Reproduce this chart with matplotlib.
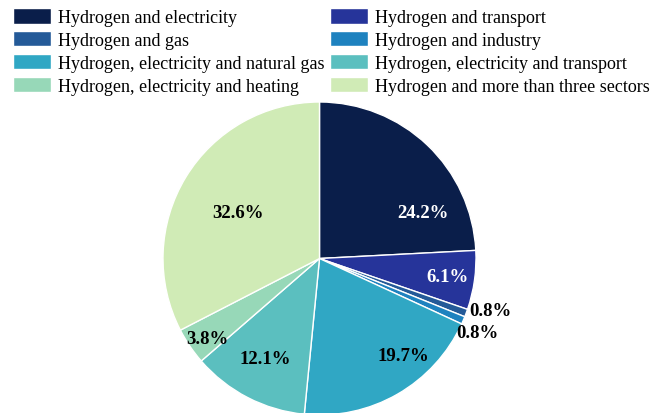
import matplotlib.pyplot as plt

# data
sectors = [
    "Hydrogen and electricity",
    "Hydrogen and transport",
    "Hydrogen and gas",
    "Hydrogen and industry",
    "Hydrogen, electricity and natural gas",
    "Hydrogen, electricity and transport",
    "Hydrogen, electricity and heating",
    "Hydrogen and more than three sectors",
]
shares = [24.2, 6.1, 0.8, 0.8, 19.7, 12.1, 3.8, 32.6]

colors = ["#0a1e4a", "#26349a", "#245a98", "#1e82bf", "#30a7c4",
          "#5bbfbf", "#97d8b8", "#d0ebb6"]
# label placement (x, y in pie radii) and colour, as in the reference
label_pos = [(0.661, 0.297), (0.815, -0.112), (1.089, -0.335), (1.006, -0.476),
             (0.534, -0.623), (-0.348, -0.642), (-0.719, -0.514), (-0.521, 0.297)]
label_col = ["white", "white", "black", "black", "black", "black", "black", "black"]

plt.rcParams["font.family"] = ["Liberation Serif", "DejaVu Serif"]

fig = plt.figure(figsize=(6.62, 4.14), dpi=100)
ax = fig.add_axes([163 / 662, -2 / 414, 313 / 662, 313 / 414])

wedges, texts, autotexts = ax.pie(
    shares,
    colors=colors,
    startangle=90,
    counterclock=False,
    autopct="%.1f%%",
    wedgeprops=dict(edgecolor="white", linewidth=1),
    textprops=dict(fontsize=13.5, fontweight="bold"),
)
for t, pos, c in zip(autotexts, label_pos, label_col):
    t.set_position(pos)
    t.set_color(c)
    t.set_ha("center")
    t.set_va("center")
ax.set_xlim(-1, 1)
ax.set_ylim(-1, 1)
ax.set_aspect("equal")
ax.axis("off")

# legend ordered row by row like the reference (2 columns)
order = [0, 2, 4, 6, 1, 3, 5, 7]
fig.legend(
    [wedges[i] for i in order],
    [sectors[i] for i in order],
    ncol=2,
    loc="upper left",
    bbox_to_anchor=(13 / 662, 1 - 9 / 414),
    frameon=False,
    fontsize=13,
    handlelength=2.1,
    handleheight=0.95,
    handletextpad=0.38,
    columnspacing=0.33,
    labelspacing=0.27,
    borderpad=0,
    borderaxespad=0,
)

fig.savefig("out.png", dpi=100)
